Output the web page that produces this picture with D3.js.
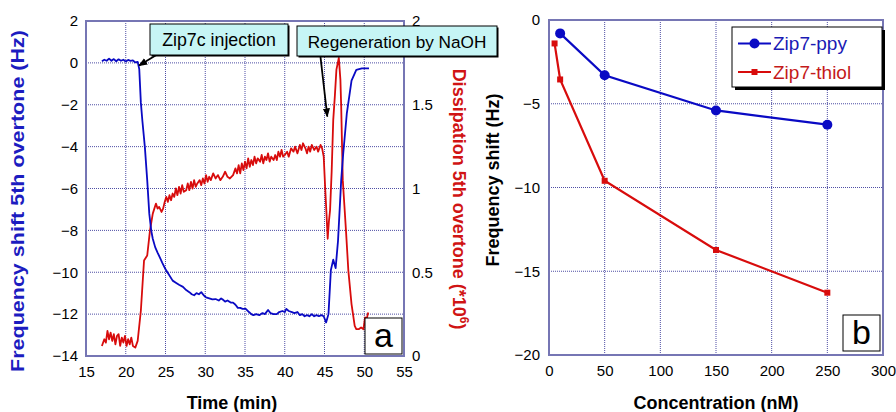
<!DOCTYPE html>
<html><head><meta charset="utf-8">
<script src="https://cdn.jsdelivr.net/npm/d3@7"></script>
<style>
html,body{margin:0;padding:0;background:#fff;}
svg{display:block;font-family:"Liberation Sans",Arial,sans-serif;}
</style></head>
<body>
<svg id="c" width="896" height="412"></svg>
<script>
// ---------- Panel a data ----------
const timeTicks = [15,20,25,30,35,40,45,50,55];
const freqTicks = [2,0,-2,-4,-6,-8,-10,-12,-14];
const dissTicks = [0,0.5,1,1.5,2];
// frequency shift (Hz) vs time (min)
const freqTime = [17.0,17.3,17.6,17.9,18.2,18.5,18.8,19.1,19.4,19.7,20.0,20.3,20.6,20.9,21.2,21.5,21.7,21.9,22.1,22.4,22.7,22.96,23.2,23.4,23.7,24.0,24.3,24.6,25.0,25.4,25.9,26.3,26.7,27.2,27.6,28.0,28.3,28.6,28.9,29.2,29.5,29.8,30.1,30.5,30.9,31.3,31.7,32.0,32.2,32.5,32.8,33.2,33.5,33.8,34.1,34.4,34.7,35.1,35.5,35.8,36.05,36.4,36.8,37.2,37.5,37.9,38.2,38.6,39.0,39.3,39.7,40.0,40.2,40.5,40.9,41.2,41.6,41.9,42.2,42.5,42.8,43.1,43.4,43.7,44.0,44.3,44.6,44.9,45.2,45.5,45.8,46.1,46.4,46.7,47.1,47.35,47.8,48.4,49.0,49.7,50.6];
const freqShift = [0.08,0.15,0.1,0.2,0.1,0.18,0.08,0.17,0.1,0.15,0.07,0.14,0.1,0.12,0.02,0.05,-0.3,-1.9,-2.8,-4.0,-5.6,-7.2,-8.0,-8.4,-8.8,-9.06,-9.3,-9.55,-9.86,-10.1,-10.4,-10.5,-10.6,-10.7,-10.85,-10.95,-11.05,-11.1,-11.0,-11.05,-10.95,-11.1,-11.2,-11.25,-11.3,-11.28,-11.35,-11.25,-11.3,-11.4,-11.35,-11.45,-11.45,-11.55,-11.7,-11.7,-11.75,-11.75,-11.9,-12.0,-12.05,-12.0,-12.05,-11.95,-12.0,-11.8,-11.95,-12.0,-12.0,-11.9,-11.85,-11.9,-11.75,-11.85,-11.9,-11.95,-11.9,-12.05,-12.0,-12.1,-12.05,-12.1,-12.0,-12.1,-12.05,-12.1,-12.05,-12.1,-12.4,-12.0,-9.9,-9.4,-9.8,-8.5,-5.6,-4.35,-2.44,-0.85,-0.33,-0.26,-0.26];
// dissipation (*10^6) vs time (min)
const dissTime = [17.0,17.3,17.5,17.7,17.9,18.1,18.3,18.5,18.7,18.9,19.1,19.3,19.5,19.7,19.9,20.1,20.3,20.5,20.7,20.9,21.2,21.5,21.9,22.3,22.7,23.05,23.4,23.8,24.0,24.2,24.5,24.7,24.9,25.1,25.3,25.5,25.7,25.9,26.1,26.3,26.5,26.7,26.9,27.1,27.3,27.6,27.8,28.0,28.2,28.4,28.6,28.8,29.0,29.3,29.5,29.7,29.9,30.1,30.3,30.5,30.7,31.0,31.3,31.6,31.9,32.2,32.5,32.8,33.1,33.5,33.8,34.0,34.2,34.4,34.6,34.8,35.0,35.2,35.4,35.6,35.8,36.0,36.2,36.4,36.6,36.9,37.1,37.3,37.5,37.7,37.9,38.1,38.3,38.6,38.8,39.0,39.2,39.4,39.6,39.8,40.0,40.3,40.5,40.8,41.1,41.3,41.6,41.9,42.1,42.3,42.6,42.8,43.0,43.2,43.4,43.7,44.0,44.2,44.5,44.7,44.9,45.1,45.25,45.4,45.55,45.7,45.9,46.1,46.3,46.5,46.8,47.0,47.1,47.3,47.5,47.7,48.0,48.4,48.8,49.0,49.3,49.6,49.9,50.1,50.3,50.5];
const dissipation = [0.06,0.1,0.08,0.15,0.1,0.14,0.09,0.13,0.07,0.12,0.13,0.06,0.11,0.08,0.12,0.06,0.1,0.07,0.11,0.06,0.05,0.09,0.27,0.57,0.6,0.75,0.85,0.91,0.88,0.89,0.86,0.88,0.92,0.95,0.92,0.96,0.93,0.97,0.95,1.0,0.96,1.01,0.97,1.02,0.98,0.99,1.03,0.99,1.04,1.0,1.05,1.01,1.03,1.05,1.02,1.06,1.03,1.08,1.04,1.07,1.05,1.09,1.06,1.08,1.05,1.07,1.1,1.07,1.06,1.08,1.12,1.09,1.14,1.09,1.15,1.11,1.16,1.12,1.18,1.13,1.17,1.14,1.19,1.15,1.18,1.16,1.2,1.15,1.19,1.17,1.21,1.16,1.19,1.17,1.2,1.17,1.22,1.19,1.23,1.19,1.2,1.22,1.19,1.24,1.22,1.25,1.21,1.26,1.23,1.27,1.24,1.21,1.25,1.22,1.26,1.23,1.25,1.22,1.26,1.24,1.19,0.99,0.85,0.7,0.8,0.87,1.1,1.41,1.55,1.71,1.78,1.65,1.49,1.05,0.9,0.75,0.51,0.31,0.18,0.16,0.16,0.17,0.16,0.23,0.22,0.26];

// ---------- Panel b data ----------
const concTicks = [0,50,100,150,200,250,300];
const shiftTicks = [0,-5,-10,-15,-20];
const ppyConc = [10,50,150,250];
const ppyShift = [-0.8,-3.3,-5.4,-6.25];
const thiolConc = [5,10,50,150,250];
const thiolShift = [-1.4,-3.55,-9.6,-13.73,-16.28];
const seriesNames = ["Zip7-ppy","Zip7-thiol"];

const svg = d3.select("#c");
const BLUE = "#0a0ac4", RED = "#d80c0c", FRAME = "#7676b4", GRID = "#23238f";

function drawFrame(g, x, y, xt, yt, w, h){
  g.selectAll(".gx").data(xt.slice(1,-1)).enter().append("line")
    .attr("x1",d=>x(d)).attr("x2",d=>x(d)).attr("y1",0).attr("y2",h)
    .attr("stroke",GRID).attr("stroke-width",1).attr("stroke-dasharray","1,1").attr("opacity",0.8);
  g.selectAll(".gy").data(yt).enter().append("line")
    .attr("x1",0).attr("x2",w).attr("y1",d=>y(d)).attr("y2",d=>y(d))
    .attr("stroke",GRID).attr("stroke-width",1).attr("stroke-dasharray","1,1").attr("opacity",0.8);
}

// ===== Panel a =====
const A = {l:86, t:21, w:318, h:335};
const xa = d3.scaleLinear().domain([15,55]).range([0,A.w]);
const ya = d3.scaleLinear().domain([-14,2]).range([A.h,0]);
const yd = d3.scaleLinear().domain([0,2]).range([A.h,0]);
const ga = svg.append("g").attr("transform",`translate(${A.l},${A.t})`);
drawFrame(ga, xa, ya, timeTicks, freqTicks.slice(1,-1), A.w, A.h);

const lineF = d3.line().x((d,i)=>xa(freqTime[i])).y(d=>ya(d));
const lineD = d3.line().x((d,i)=>xa(dissTime[i])).y(d=>yd(d));
ga.append("path").attr("d",lineD(dissipation)).attr("fill","none").attr("stroke",RED).attr("stroke-width",1.8).attr("stroke-linejoin","round");
ga.append("path").attr("d",lineF(freqShift)).attr("fill","none").attr("stroke",BLUE).attr("stroke-width",1.8).attr("stroke-linejoin","round");

ga.append("rect").attr("width",A.w).attr("height",A.h).attr("fill","none").attr("stroke",FRAME).attr("stroke-width",2);

const axBa = ga.append("g").attr("transform",`translate(0,${A.h})`).call(d3.axisBottom(xa).tickValues(timeTicks).tickSize(0).tickPadding(10));
const axLa = ga.append("g").call(d3.axisLeft(ya).tickValues(freqTicks).tickSize(0).tickPadding(8));
const axRa = ga.append("g").attr("transform",`translate(${A.w},0)`).call(d3.axisRight(yd).tickValues(dissTicks).tickFormat(d3.format("")).tickSize(0).tickPadding(8));
[axBa,axLa,axRa].forEach(a=>{a.select(".domain").remove(); a.selectAll("text").attr("font-size",15).attr("fill","#000").attr("font-family","Liberation Sans, Arial, sans-serif");});

svg.append("text").attr("transform","translate(24,201) rotate(-90)").attr("text-anchor","middle")
  .attr("font-size",18).attr("font-weight","bold").attr("fill","#1c1cc0")
  .attr("textLength",342).attr("lengthAdjust","spacingAndGlyphs")
  .text("Frequency shift 5th overtone (Hz)");
const dt = svg.append("text").attr("transform","translate(453,199) rotate(90)").attr("text-anchor","middle")
  .attr("font-size",18).attr("font-weight","bold").attr("fill","#d01414");
dt.append("tspan").text("Dissipation 5th overtone (*10");
dt.append("tspan").attr("font-size",12).attr("dy",-7).text("6");
dt.append("tspan").attr("dy",7).text(")");
svg.append("text").attr("x",232).attr("y",409).attr("text-anchor","middle")
  .attr("font-size",18).attr("font-weight","bold").attr("fill","#000").text("Time (min)");

function callout(x,y,w,h,label,fs){
  svg.append("rect").attr("x",x+1.5).attr("y",y+1.5).attr("width",w).attr("height",h).attr("fill","#000");
  svg.append("rect").attr("x",x).attr("y",y).attr("width",w).attr("height",h).attr("fill","#c6f5f5").attr("stroke","#000").attr("stroke-width",1);
  svg.append("text").attr("x",x+w/2).attr("y",y+h/2+6.5).attr("text-anchor","middle").attr("font-size",fs).attr("fill","#000").text(label);
}
svg.append("defs").append("marker").attr("id","ah").attr("viewBox","0 0 10 10").attr("refX",9).attr("refY",5)
  .attr("markerWidth",9).attr("markerHeight",9).attr("orient","auto-start-reverse").attr("markerUnits","userSpaceOnUse")
  .append("path").attr("d","M0,1 L10,5 L0,9 z").attr("fill","#000");
svg.append("line").attr("x1",158).attr("y1",54).attr("x2",139).attr("y2",65.5).attr("stroke","#000").attr("stroke-width",1.8).attr("marker-end","url(#ah)");
svg.append("line").attr("x1",320.5).attr("y1",57).attr("x2",327.3).attr("y2",116.5).attr("stroke","#000").attr("stroke-width",1.8).attr("marker-end","url(#ah)");
callout(150,24,138,31,"Zip7c injection",17.8);
callout(297,26,200,30,"Regeneration by NaOH",17.2);

function letterBox(x,y,w,h,ch){
  svg.append("rect").attr("x",x).attr("y",y).attr("width",w).attr("height",h).attr("fill","#fff").attr("stroke","#000").attr("stroke-width",1);
  svg.append("text").attr("x",x+w/2).attr("y",y+h-7.5).attr("text-anchor","middle").attr("font-size",34).attr("fill","#000").text(ch);
}
letterBox(365,318,37,36,"a");

// ===== Panel b =====
const B = {l:549, t:20, w:334, h:335};
const xb = d3.scaleLinear().domain([0,300]).range([0,B.w]);
const yb = d3.scaleLinear().domain([-20,0]).range([B.h,0]);
const gb = svg.append("g").attr("transform",`translate(${B.l},${B.t})`);
drawFrame(gb, xb, yb, concTicks, shiftTicks.slice(1,-1), B.w, B.h);
const lineB = d3.line();
gb.append("path").attr("d",lineB(ppyConc.map((c,i)=>[xb(c),yb(ppyShift[i])]))).attr("fill","none").attr("stroke",BLUE).attr("stroke-width",2.2);
gb.append("path").attr("d",lineB(thiolConc.map((c,i)=>[xb(c),yb(thiolShift[i])]))).attr("fill","none").attr("stroke",RED).attr("stroke-width",2.2);
gb.selectAll(".mp").data(ppyConc).enter().append("circle").attr("cx",d=>xb(d)).attr("cy",(d,i)=>yb(ppyShift[i])).attr("r",5).attr("fill",BLUE);
gb.selectAll(".mt").data(thiolConc).enter().append("rect").attr("x",d=>xb(d)-3).attr("y",(d,i)=>yb(thiolShift[i])-3).attr("width",6).attr("height",6).attr("fill",RED);
gb.append("rect").attr("width",B.w).attr("height",B.h).attr("fill","none").attr("stroke",FRAME).attr("stroke-width",2);

const axBb = gb.append("g").attr("transform",`translate(0,${B.h})`).call(d3.axisBottom(xb).tickValues(concTicks).tickSize(0).tickPadding(10));
const axLb = gb.append("g").call(d3.axisLeft(yb).tickValues(shiftTicks).tickSize(0).tickPadding(9));
[axBb,axLb].forEach(a=>{a.select(".domain").remove(); a.selectAll("text").attr("font-size",15).attr("fill","#000").attr("font-family","Liberation Sans, Arial, sans-serif");});

svg.append("text").attr("transform","translate(499,180) rotate(-90)").attr("text-anchor","middle")
  .attr("font-size",18).attr("font-weight","bold").attr("fill","#000").text("Frequency shift (Hz)");
svg.append("text").attr("x",716).attr("y",409).attr("text-anchor","middle")
  .attr("font-size",18).attr("font-weight","bold").attr("fill","#000").text("Concentration (nM)");

const L = {x:732, y:27, w:150, h:60};
svg.append("rect").attr("x",L.x+3).attr("y",L.y+3).attr("width",L.w).attr("height",L.h).attr("fill","#000");
svg.append("rect").attr("x",L.x).attr("y",L.y).attr("width",L.w).attr("height",L.h).attr("fill","#fff").attr("stroke","#000").attr("stroke-width",1);
const legColors = [BLUE, RED], legText = ["#1a1ab4","#c41a1a"];
seriesNames.forEach((n,i)=>{
  const yy = L.y + 16.5 + i*28.5;
  svg.append("line").attr("x1",L.x+6).attr("x2",L.x+39).attr("y1",yy).attr("y2",yy).attr("stroke",legColors[i]).attr("stroke-width",2);
  if(i===0) svg.append("circle").attr("cx",L.x+22.5).attr("cy",yy).attr("r",5).attr("fill",legColors[i]);
  else svg.append("rect").attr("x",L.x+19.5).attr("y",yy-3).attr("width",6).attr("height",6).attr("fill",legColors[i]);
  svg.append("text").attr("x",L.x+41).attr("y",yy+6.5).attr("font-size",19).attr("fill",legText[i]).text(n);
});
letterBox(843,315,37,36,"b");
</script>
</body></html>
